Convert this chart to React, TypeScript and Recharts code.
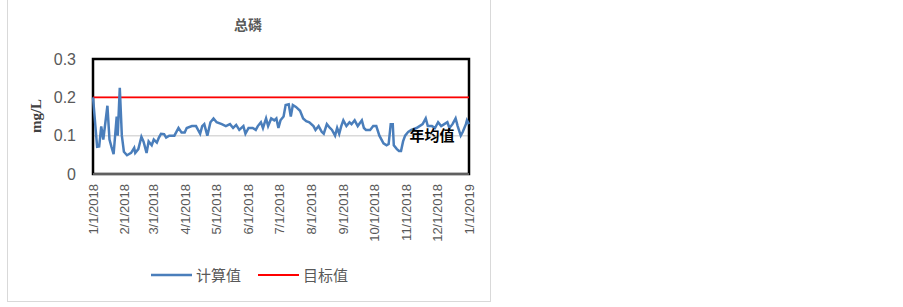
import React from 'react';
import { LineChart, Line, XAxis, YAxis, CartesianGrid, ReferenceLine, ReferenceArea, ReferenceDot } from 'recharts';

const dayOfYear = [0,4,6,8,10,14,16,18,20,23,24,26,28,30,33,37,40,41,44,47,49,52,54,57,59,62,64,66,69,71,74,79,83,86,89,91,96,100,104,106,108,111,114,117,120,125,129,133,136,139,142,146,148,151,155,158,160,163,165,168,170,173,176,178,180,182,185,187,190,192,194,197,201,204,207,210,214,216,219,222,224,227,230,232,235,237,239,241,243,246,249,251,254,257,261,263,265,269,272,275,278,282,285,287,289,291,292,295,297,299,301,303,306,309,314,317,320,323,325,329,332,335,338,341,344,346,349,352,354,357,359,362,363,365];
const calcValues = [0.20,0.071,0.072,0.124,0.09,0.178,0.09,0.07,0.052,0.15,0.10,0.225,0.10,0.058,0.049,0.055,0.068,0.055,0.065,0.097,0.085,0.055,0.085,0.075,0.09,0.082,0.095,0.105,0.104,0.095,0.10,0.10,0.12,0.108,0.108,0.12,0.125,0.125,0.105,0.125,0.13,0.10,0.135,0.145,0.135,0.13,0.125,0.13,0.12,0.128,0.115,0.125,0.105,0.12,0.12,0.115,0.125,0.135,0.12,0.145,0.125,0.145,0.14,0.145,0.12,0.14,0.15,0.18,0.182,0.15,0.18,0.175,0.165,0.145,0.138,0.135,0.125,0.115,0.125,0.11,0.105,0.13,0.12,0.115,0.10,0.12,0.105,0.125,0.14,0.125,0.135,0.13,0.14,0.125,0.14,0.12,0.115,0.115,0.125,0.125,0.10,0.08,0.075,0.078,0.13,0.13,0.075,0.065,0.06,0.06,0.085,0.10,0.11,0.115,0.12,0.125,0.13,0.145,0.125,0.125,0.12,0.135,0.125,0.13,0.135,0.12,0.13,0.145,0.125,0.10,0.11,0.13,0.14,0.13];

const monthTicks = [0,31,59,90,120,151,181,212,243,273,304,334,365];
const monthLabels = ['1/1/2018','2/1/2018','3/1/2018','4/1/2018','5/1/2018','6/1/2018','7/1/2018','8/1/2018','9/1/2018','10/1/2018','11/1/2018','12/1/2018','1/1/2019'];
const yTicks = [0, 0.1, 0.2, 0.3];
const TARGET = 0.2;
const ANNUAL_MEAN = 0.1;
const ANNUAL_MEAN_LABEL_DAY = 329;

const data = dayOfYear.map((d, i) => ({ day: d, calc: calcValues[i] }));

const GRAY = '#595959';

const MonthTick = (props: any) => {
  const { x, y, payload } = props;
  const label = monthLabels[monthTicks.indexOf(payload.value)];
  return (
    <text
      x={x}
      y={y}
      transform={`rotate(-90 ${x} ${y})`}
      textAnchor="end"
      dominantBaseline="central"
      fontFamily='"Liberation Sans"'
      fontSize={13}
      fill={GRAY}
    >
      {label}
    </text>
  );
};

export default function App() {
  return (
    <div style={{ position: 'absolute', left: 0, top: 0, width: 903, height: 307, background: '#fff', overflow: 'hidden' }}>
      <div style={{ position: 'absolute', left: 7, top: -2, width: 484, height: 304, border: '1px solid #d9d9d9', boxSizing: 'border-box' }} />
      <div style={{ position: 'absolute', left: 148, top: 14, width: 200, textAlign: 'center', fontFamily: '"Noto Sans CJK SC"', fontSize: 14, color: GRAY, fontWeight: 'bold', lineHeight: '20px' }}>总磷</div>
      <div style={{ position: 'absolute', left: 0, top: 0 }}>
        <LineChart width={903} height={307} data={data} margin={{ top: 59, right: 434, bottom: 73, left: 33 }}>
          <CartesianGrid horizontal={true} vertical={false} stroke="#d9d9d9" strokeWidth={1.5} />
          <XAxis
            dataKey="day"
            type="number"
            domain={[0, 365]}
            ticks={monthTicks}
            interval={0}
            height={60}
            tickLine={false}
            axisLine={{ stroke: '#bfbfbf' }}
            tickSize={0}
            tickMargin={10}
            tick={<MonthTick />}
          />
          <YAxis
            type="number"
            domain={[0, 0.3]}
            ticks={yTicks}
            tickFormatter={(v: number) => (v === 0 ? '0' : v.toFixed(1))}
            width={60}
            tickLine={false}
            axisLine={false}
            tickSize={0}
            tickMargin={17}
            tick={{ fontFamily: '"Liberation Sans"', fontSize: 16, fill: GRAY }}
            label={() => (
              <text x={36} y={116} transform="rotate(-90 36 116)" textAnchor="middle" dominantBaseline="central" fontFamily='"Liberation Serif"' fontWeight="bold" fontSize={15} fill="#404040">mg/L</text>
            )}
          />
          <ReferenceArea x1={0} x2={365} y1={0} y2={0.3} fill="none" stroke="#000" strokeWidth={2.5} fillOpacity={0} />
          <ReferenceLine y={TARGET} stroke="#ff0000" strokeWidth={1.8} />
          <Line type="linear" dataKey="calc" stroke="#4a7ebb" strokeWidth={2.5} dot={false} isAnimationActive={false} />
          <ReferenceDot
            x={ANNUAL_MEAN_LABEL_DAY}
            y={ANNUAL_MEAN}
            r={0}
            fill="none"
            stroke="none"
            label={{ value: '年均值', position: 'center', fontFamily: '"Noto Sans CJK SC"', fontSize: 15, fill: '#000', fontWeight: 'bold' }}
          />
        </LineChart>
      </div>
      <div style={{ position: 'absolute', left: 150, top: 264, display: 'flex', alignItems: 'center', fontFamily: '"Noto Sans CJK SC"', fontSize: 15, color: GRAY, lineHeight: '22px' }}>
        <svg width={42} height={6}><line x1={1} y1={3} x2={42} y2={3} stroke="#4a7ebb" strokeWidth={2.5} /></svg>
        <span style={{ marginLeft: 4 }}>计算值</span>
        <svg width={42} height={6} style={{ marginLeft: 16 }}><line x1={1} y1={3} x2={42} y2={3} stroke="#ff0000" strokeWidth={2} /></svg>
        <span style={{ marginLeft: 4 }}>目标值</span>
      </div>
    </div>
  );
}
